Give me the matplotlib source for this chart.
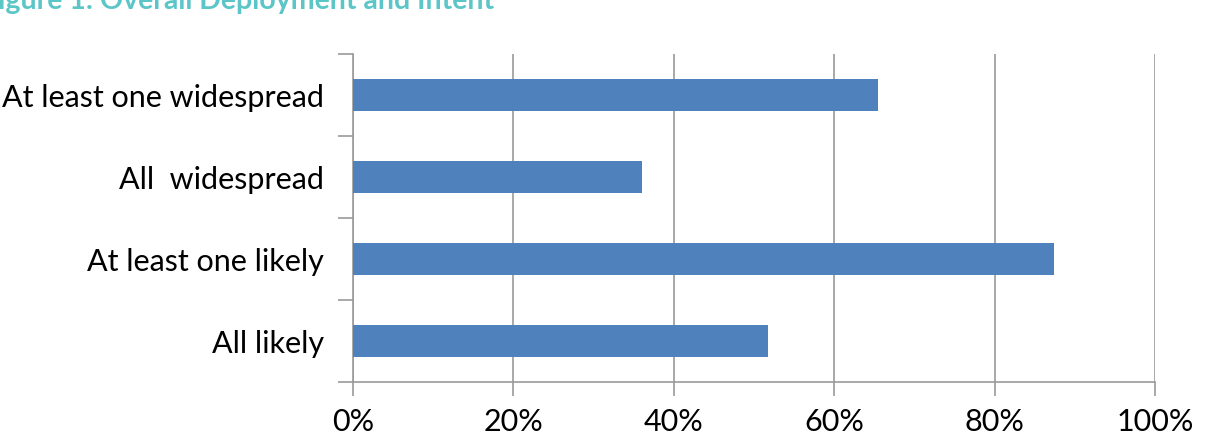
import matplotlib
matplotlib.use("Agg")
import matplotlib.pyplot as plt
from matplotlib.ticker import FixedLocator, PercentFormatter

categories = ["At least one widespread", "All  widespread", "At least one likely", "All likely"]
values = [65.5, 36.0, 87.4, 51.8]
xticks = [0, 20, 40, 60, 80, 100]

bar_color = "#4F81BD"
line_color = "#9A9A9A"
title_color = "#5BC5C8"

plt.rcParams['font.family'] = ['Lato', 'DejaVu Sans']

W, H = 1210, 447
fig = plt.figure(figsize=(W / 100, H / 100), dpi=100)
ax = fig.add_axes([353 / W, 1 - 382 / H, (1155 - 353) / W, (382 - 54) / H])

# top category first
ypos = list(range(len(categories)))[::-1]
ax.barh(ypos, values, height=0.38, color=bar_color, zorder=3)

ax.set_xlim(0, 100)
ax.set_ylim(-0.5, len(categories) - 0.5)
ax.set_xticks(xticks)
ax.xaxis.set_major_formatter(PercentFormatter(decimals=0))
ax.grid(axis='x', color=line_color, linewidth=1.2, zorder=0)

ax.set_yticks(ypos)
ax.set_yticklabels(categories)
ax.yaxis.set_minor_locator(FixedLocator([y - 0.5 for y in range(len(categories) + 1)]))
ax.tick_params(axis='y', which='major', length=0, pad=21, labelsize=22, labelcolor='black')
ax.tick_params(axis='y', which='minor', length=11, width=1.2, color=line_color)
ax.tick_params(axis='x', length=10, width=1.2, color=line_color, pad=9, labelsize=22)

for side in ['top', 'right']:
    ax.spines[side].set_visible(False)
for side in ['left', 'bottom']:
    ax.spines[side].set_color(line_color)
    ax.spines[side].set_linewidth(1.2)

# title sits above the crop, only its lower part shows
fig.text(494 / W, 1 - 9 / H, "Figure 1: Overall Deployment and Intent", ha='right',
         va='baseline', fontsize=20.5, fontweight='bold', color=title_color)

fig.savefig("out.png", dpi=100)
